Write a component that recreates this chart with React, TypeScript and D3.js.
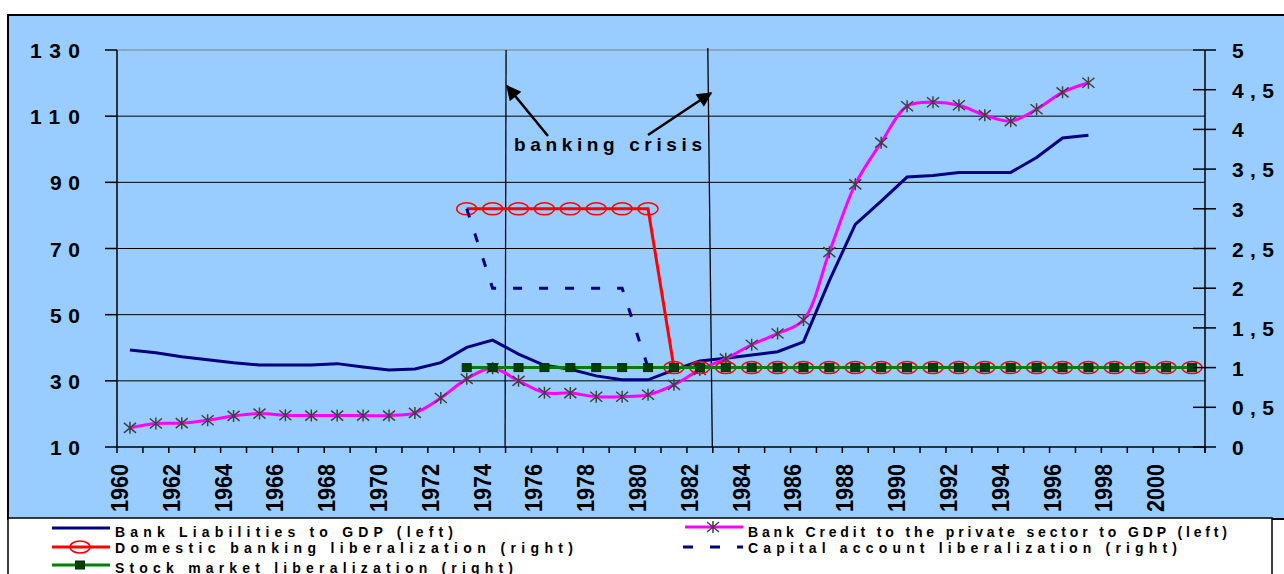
import * as d3 from "d3"

// categories
const years = [
	1960, 1961, 1962, 1963, 1964, 1965, 1966, 1967, 1968, 1969, 1970, 1971, 1972, 1973, 1974, 1975, 1976, 1977,
	1978, 1979, 1980, 1981, 1982, 1983, 1984, 1985, 1986, 1987, 1988, 1989, 1990, 1991, 1992, 1993, 1994, 1995,
	1996, 1997, 1998, 1999, 2000, 2001,
]
const yearLabels = [1960, 1962, 1964, 1966, 1968, 1970, 1972, 1974, 1976, 1978, 1980, 1982, 1984, 1986, 1988, 1990, 1992, 1994, 1996, 1998, 2000]

// left axis series, from 1960
const bankLiabilities = [
	39.3, 38.5, 37.3, 36.4, 35.5, 34.8, 34.8, 34.8, 35.2, 34.2, 33.3, 33.6, 35.5, 40.1, 42.3, 38.1, 34.7, 33.5,
	31.5, 30.3, 30.3, 33.3, 36.0, 36.8, 37.8, 38.8, 41.8, 60.3, 77.3, 84.3, 91.6, 92.1, 93.0, 93.0, 93.0, 97.5,
	103.4, 104.2,
]
const bankCredit = [
	15.8, 17.1, 17.2, 18.1, 19.4, 20.1, 19.6, 19.5, 19.5, 19.5, 19.5, 20.3, 24.8, 30.6, 33.8, 30.0, 26.4, 26.3,
	25.2, 25.2, 25.8, 28.8, 33.3, 36.7, 40.9, 44.3, 48.4, 68.9, 89.4, 102.0, 113.0, 114.2, 113.3, 110.3, 108.5,
	112.1, 117.2, 120.1,
]

// right axis series, from 1973
const libStart = 1973
const domesticLib = [3, 3, 3, 3, 3, 3, 3, 3, 1, 1, 1, 1, 1, 1, 1, 1, 1, 1, 1, 1, 1, 1, 1, 1, 1, 1, 1, 1, 1]
const capitalLib = [3, 2, 2, 2, 2, 2, 2, 1, 1, 1, 1, 1, 1, 1, 1, 1, 1, 1, 1, 1, 1, 1, 1, 1, 1, 1, 1, 1, 1]
const stockLib = [1, 1, 1, 1, 1, 1, 1, 1, 1, 1, 1, 1, 1, 1, 1, 1, 1, 1, 1, 1, 1, 1, 1, 1, 1, 1, 1, 1, 1]

const leftTicks = [10, 30, 50, 70, 90, 110, 130]
const rightTicks = [0, 0.5, 1, 1.5, 2, 2.5, 3, 3.5, 4, 4.5, 5]
const crisisYears = [1975, 1983]

const FONT = "Arial, 'Liberation Sans', sans-serif"

type Pt = { year: number; v: number }

const App = () => {
	const W = 1284
	const H = 574
	const left = 117
	const right = 1205
	const top = 50
	const bottom = 447

	const x = d3.scaleBand<number>().domain(years).range([left, right]).padding(0)
	const bw = x.bandwidth()
	const cx = (yr: number) => (x(yr) as number) + bw / 2
	const yL = d3.scaleLinear().domain([10, 130]).range([bottom, top])
	const yR = d3.scaleLinear().domain([0, 5]).range([bottom, top])

	const fromStart = (arr: number[], start: number): Pt[] => arr.map((v, i) => ({ year: start + i, v }))
	const liab = fromStart(bankLiabilities, 1960)
	const cred = fromStart(bankCredit, 1960)
	const dom = fromStart(domesticLib, libStart)
	const cap = fromStart(capitalLib, libStart)
	const stk = fromStart(stockLib, libStart)

	const lineL = d3.line<Pt>().x((d) => cx(d.year)).y((d) => yL(d.v))
	const lineLs = d3.line<Pt>().x((d) => cx(d.year)).y((d) => yL(d.v)).curve(d3.curveCatmullRom.alpha(0.5))
	const lineR = d3.line<Pt>().x((d) => cx(d.year)).y((d) => yR(d.v))

	const star = "M-6,-5L6,5M-6,5L6,-5M0,-6L0,6"

	const boundaries = years.map((yr) => x(yr) as number).concat([right])

	return (
		<svg width={W} height={H} style={{ position: "absolute", left: 0, top: 0, background: "#fff" }} fontFamily={FONT}>
			{/* chart frame */}
			<rect x={8} y={15} width={1300} height={504} fill="#99CCFF" stroke="#000" strokeWidth={2} />

			{/* grid lines */}
			{leftTicks.slice(1).map((t) => (
				<line
					key={"g" + t}
					x1={left}
					x2={t === 130 ? 1193 : right}
					y1={yL(t)}
					y2={yL(t)}
					stroke={t === 130 ? "#808080" : "#000"}
					strokeWidth={1}
				/>
			))}

			{/* banking crisis markers */}
			{crisisYears.map((yr, i) => (
				<line
					key={"c" + yr}
					x1={(x(yr) as number) + (i === 0 ? 0.5 : -5)}
					y1={i === 0 ? top : top - 2}
					x2={(x(yr) as number) - 0.5}
					y2={bottom}
					stroke="#000"
					strokeWidth={1.3}
				/>
			))}

			{/* series */}
			<path d={lineL(liab) as string} fill="none" stroke="#000080" strokeWidth={3} />
			<path d={lineLs(cred) as string} fill="none" stroke="#FF00FF" strokeWidth={3} />
			{cred.map((d) => (
				<path key={"s" + d.year} d={star} transform={`translate(${cx(d.year)},${yL(d.v)})`} stroke="#404040" strokeWidth={1.5} fill="none" />
			))}
			<path d={lineR(dom) as string} fill="none" stroke="#FF0000" strokeWidth={3} />
			{dom.map((d) => (
				<ellipse key={"o" + d.year} cx={cx(d.year)} cy={yR(d.v)} rx={10} ry={6} fill="none" stroke="#FF0000" strokeWidth={1.5} />
			))}
			<path d={lineR(cap) as string} fill="none" stroke="#000080" strokeWidth={3} strokeDasharray="9,17" />
			<path d={lineR(stk) as string} fill="none" stroke="#008000" strokeWidth={3} />
			{stk.map((d) => (
				<rect key={"q" + d.year} x={cx(d.year) - 4.5} y={yR(d.v) - 4} width={9} height={8} fill="#004000" stroke="#003000" strokeWidth={1} />
			))}

			{/* axes */}
			<line x1={left} x2={left} y1={top} y2={bottom} stroke="#000" strokeWidth={1.5} />
			<line x1={left} x2={right} y1={bottom} y2={bottom} stroke="#000" strokeWidth={1.5} />
			<line x1={right} x2={right} y1={top} y2={bottom + 6} stroke="#000" strokeWidth={1.5} />
			{leftTicks.map((t) => (
				<g key={"l" + t}>
					<line x1={105} x2={left} y1={yL(t)} y2={yL(t)} stroke="#000" strokeWidth={1.5} />
					<text x={80} y={yL(t) + 8} textAnchor="end" fontSize={21} fontWeight="bold" textLength={t >= 100 ? 50 : 30} lengthAdjust="spacing">
						{t}
					</text>
				</g>
			))}
			{rightTicks.map((t) => {
				const lbl = String(t).replace(".", ",")
				return (
					<g key={"r" + t}>
						<line x1={1193} x2={1216} y1={yR(t)} y2={yR(t)} stroke="#000" strokeWidth={1.5} />
						<text
							x={1232}
							y={yR(t) + 8}
							fontSize={21}
							fontWeight="bold"
							textLength={lbl.length > 1 ? 42 : undefined}
							lengthAdjust="spacing"
						>
							{lbl}
						</text>
					</g>
				)
			})}
			{boundaries.map((b, i) => (
				<line key={"t" + i} x1={b} x2={b} y1={bottom} y2={bottom + 6} stroke="#000" strokeWidth={1.5} />
			))}
			{yearLabels.map((yr) => (
				<text
					key={"y" + yr}
					transform={`translate(${cx(yr) - 2},512) rotate(-90)`}
					fontSize={23}
					fontWeight="bold"
					textLength={48}
					lengthAdjust="spacingAndGlyphs"
				>
					{yr}
				</text>
			))}

			{/* annotation */}
			<text x={514} y={151} fontSize={19} fontWeight="bold" textLength={188} lengthAdjust="spacing">
				banking crisis
			</text>
			<defs>
				<marker id="ah" viewBox="0 0 10 10" refX={9} refY={5} markerWidth={7} markerHeight={6} orient="auto" markerUnits="strokeWidth">
					<path d="M0,0L10,5L0,10z" fill="#000" />
				</marker>
			</defs>
			<line x1={548} y1={136} x2={507} y2={86} stroke="#000" strokeWidth={2.5} markerEnd="url(#ah)" />
			<line x1={648} y1={135} x2={711} y2={93} stroke="#000" strokeWidth={2.5} markerEnd="url(#ah)" />

			{/* legend */}
			<rect x={8} y={518} width={1264} height={70} fill="#fff" stroke="#000" strokeWidth={1.5} />
			<line x1={52} x2={110} y1={528} y2={528} stroke="#000080" strokeWidth={3} />
			<text x={115} y={537} fontSize={14} fontWeight="bold" textLength={338} lengthAdjust="spacing">
				Bank Liabilities to GDP (left)
			</text>
			<line x1={52} x2={110} y1={547} y2={547} stroke="#FF0000" strokeWidth={3} />
			<ellipse cx={80} cy={547} rx={10} ry={6} fill="none" stroke="#FF0000" strokeWidth={1.5} />
			<text x={115} y={553} fontSize={14} fontWeight="bold" textLength={458} lengthAdjust="spacing">
				Domestic banking liberalization (right)
			</text>
			<line x1={52} x2={110} y1={565} y2={565} stroke="#008000" strokeWidth={3} />
			<rect x={75.5} y={561} width={9} height={8} fill="#004000" stroke="#003000" strokeWidth={1} />
			<text x={115} y={573} fontSize={14} fontWeight="bold" textLength={398} lengthAdjust="spacing">
				Stock market liberalization (right)
			</text>
			<line x1={685} x2={743} y1={527} y2={527} stroke="#FF00FF" strokeWidth={3} />
			<path d={star} transform="translate(713,527)" stroke="#404040" strokeWidth={1.5} fill="none" />
			<text x={748} y={537} fontSize={14} fontWeight="bold" textLength={479} lengthAdjust="spacing">
				Bank Credit to the private sector to GDP (left)
			</text>
			<line x1={683} x2={743} y1={547} y2={547} stroke="#000080" strokeWidth={3} strokeDasharray="10,17" />
			<text x={748} y={553} fontSize={14} fontWeight="bold" textLength={429} lengthAdjust="spacing">
				Capital account liberalization (right)
			</text>
		</svg>
	)
}

export default App
